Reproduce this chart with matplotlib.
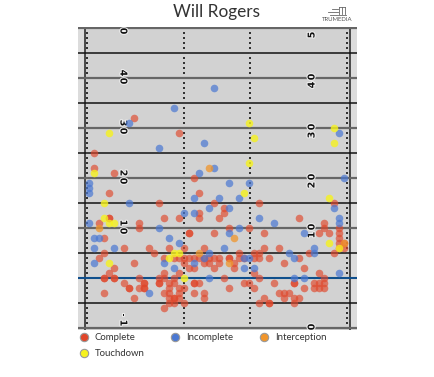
import matplotlib
matplotlib.use('Agg')
import matplotlib.pyplot as plt
import matplotlib.patheffects as pe
from matplotlib.lines import Line2D

complete_x = [10, 19, 2, 2, 6, 22, 5, 23, 15, 26, 23, 23, 16, 19, 27, 5, 5, 3, 11, 11, 4, 21, 21, 26,
              35, 28, 28, 43, 50, 48, 48, 29, 33, 36, 47, 49, 51, 51, 51,
              8, 13, 17, 20, 24, 4, 14, 3, 10,
              16, 18, 19, 20, 21, 22, 23, 24, 25, 26, 27,
              20, 24, 25, 21, 22, 26, 19, 16, 5, 6,
              15, 16, 4, 4, 6, 6, 11, 18,
              8, 12, 12, 15, 15, 17, 18, 22, 22, 23,
              12, 12, 9, 9, 11, 17, 19, 20,
              16, 17, 22, 24, 4, 19, 24, 10, 18, 18, 17, 19, 18, 17, 20, 16,
              36, 39, 31, 34, 35, 31, 32, 34, 35, 37, 29, 29, 27, 30, 30, 40, 43, 45, 50, 44,
              34, 35, 47, 48, 28, 32, 33, 34, 29, 38, 42, 42, 44,
              46, 47, 48, 46, 47, 48, 39, 40, 41, 40, 42, 43, 36, 35, 37, 37, 42, 51, 52, 52, 51]
complete_y = [32, 29, 25, 22, 21, 20, 17, 17, 15, 15, 13, 12, 12, 12, 12, 12, 12, 11, 11, 10, 8, 9, 9, 9,
              15, 14, 13, 12, 15, 11, 10, 10, 10, 9, 9, 9, 10, 9, 8,
              6, 6, 6, 6, 6, 5, 5, 4, 3,
              4, 4, 4, 4, 4, 4, 4, 4, 4, 4, 4,
              3, 3, 3, 2, 2, 2, 1, 1, 1, 2,
              0, 0, 0, 0, 0, 0, 0, 0,
              -1, -1, -1, -1, -1, -1, -1, -1, -1, -1,
              -2, -2, -2, -2, -2, -2, -2, -2,
              -3, -3, -3, -3, -3, -3, -4, -4, -4, -4, -4, -4, -5, -5, -5, -6,
              6, 6, 5, 5, 5, 4, 4, 4, 4, 4, 4, 4, 3, 3, 2, 3, 4, 5, 5, 2,
              1, 0, 1, 0, 0, -1, -1, -2, -2, -1, -1, -1, -2,
              -1, -1, -1, -2, -2, -2, -3, -3, -3, -4, -4, -4, -4, -5, -5, -5, -5, 7, 7, 6, 6]

incomplete_x = [26, 18, 9, 15, 24, 26, 23, 1, 1, 1, 22, 27, 9, 25, 20, 22, 1, 15, 17, 2, 3,
                29, 33, 52, 31, 29, 35, 38, 31, 44, 50, 51, 51, 29, 51,
                2, 6, 19, 2, 16, 18, 22, 25, 24, 13, 25,
                28, 41, 42, 46, 46, 32, 34, 32, 33, 42, 44, 51]
incomplete_y = [38, 34, 31, 26, 27, 22, 21, 19, 18, 17, 16, 16, 15, 14, 13, 13, 11, 10, 8, 8, 8,
                19, 19, 20, 16, 14, 12, 11, 10, 9, 14, 12, 11, 9, 29,
                6, 6, 7, 3, 3, 2, 3, 5, 4, -3, 0,
                6, 5, 4, 6, 5, 2, 2, 4, 4, 0, 0, 1]

interception_x = [25, 3, 23, 30, 29, 52]
interception_y = [22, 10, 5, 8, 3, 7]

touchdown_x = [33, 50, 5, 2, 4, 4, 5, 6, 34, 50, 33, 32, 49, 5, 18, 19, 17, 20, 49, 51]
touchdown_y = [31, 30, 29, 21, 15, 12, 11, 11, 28, 27, 23, 17, 16, 3, 5, 5, 4, 0, 7, 6]

num_labels = ['50', '40', '30', '20', '10', '-10']
num_yards = [50, 40, 30, 20, 10, -10]
legend_names = ['Complete', 'Touchdown', 'Incomplete', 'Interception']

c_red = '#e0462a'
c_blue = '#4a78d2'
c_orange = '#f0952b'
c_yellow = '#f6f21e'

fig = plt.figure(figsize=(4.35, 3.77), dpi=100)
ax = fig.add_axes([78 / 435, 1 - 330 / 377, 279 / 435, 303 / 377])
ax.set_xlim(-1.2, 54.6)
ax.set_ylim(-10.4, 50.2)
ax.axis('off')
ax.axvspan(-1.2, 54.6, color='#d2d2d2', lw=0, zorder=0)

# sidelines
ax.axvspan(-1.2, 0.2, color='#dcdcdc', lw=0, zorder=0)
ax.axvspan(53.2, 54.6, color='#dcdcdc', lw=0, zorder=0)
ax.axvline(0.2, color='#222222', lw=1.1, zorder=1)
ax.axvline(53.2, color='#222222', lw=1.1, zorder=1)

# yard lines
for yd in range(-10, 51, 5):
    if yd == 0:
        ax.axhline(yd, color='#0f4f8c', lw=1.5, zorder=1)
    elif yd % 10 == 0:
        ax.axhline(yd, color='#666666', lw=1.6, zorder=1)
    else:
        ax.axhline(yd, color='#111111', lw=1.1, zorder=1)

# hash marks
for hx in [0.7, 20, 33.2, 52.7]:
    hy = [yd for yd in range(-10, 50) if yd % 5 != 0]
    ax.scatter([hx] * len(hy), hy, marker='s', s=3.5, color='#333333', lw=0, zorder=1)

# field numbers, one digit at a time since they are spaced out
halo = [pe.withStroke(linewidth=1.5, foreground='#f0f0f0')]
for lab, yd in zip(num_labels, num_yards):
    chars = lab[::-1]
    for i, ch in enumerate(chars):
        left_y = yd - 0.6 + i * 1.6
        right_y = yd + 0.2 - i * 1.6
        if -10.4 < left_y < 50.2:
            ax.text(7.8, left_y, ch, rotation=-90, ha='center', va='center', fontsize=6.8,
                    fontweight='bold', color='#111111', path_effects=halo, clip_on=True, zorder=2)
        if -10.4 < right_y < 50.2:
            ax.text(45.6, right_y, ch, rotation=90, ha='center', va='center', fontsize=6.8,
                    fontweight='bold', color='#111111', path_effects=halo, clip_on=True, zorder=2)

ax.scatter(complete_x, complete_y, s=30, color=c_red, alpha=0.65, lw=0, zorder=3)
ax.scatter(incomplete_x, incomplete_y, s=30, color=c_blue, alpha=0.7, lw=0, zorder=3)
ax.scatter(interception_x, interception_y, s=30, color=c_orange, alpha=0.75, lw=0, zorder=3)
ax.scatter(touchdown_x, touchdown_y, s=30, color=c_yellow, alpha=0.8, lw=0, zorder=3)

fig.text(217 / 435, 1 - 12 / 377, 'Will Rogers', ha='center', va='center', fontsize=12.4,
         family='Lato', color='#333333')
fig.text(337.5 / 435, 1 - 19.5 / 377, 'TRUMEDIA', ha='center', va='center', fontsize=4.3,
         family='Lato', color='#555555')

# logo
for x0, x1, y0, y1 in [(328, 338, 12, 12), (332, 338, 9, 9), (330, 346, 14.5, 14.5),
                       (339, 339, 7, 14), (342, 342, 7, 14), (345, 345, 7, 14), (339, 345, 7, 7)]:
    fig.add_artist(Line2D([x0 / 435, x1 / 435], [1 - y0 / 377, 1 - y1 / 377], color='#666666', lw=0.6))

handles = []
for col, name in zip([c_red, c_yellow, c_blue, c_orange], legend_names):
    handles.append(Line2D([], [], ls='', marker='o', ms=6, mfc=col, mec='#999999', mew=0.8, label=name))
fig.legend(handles=handles, ncol=3, loc='upper left', bbox_to_anchor=(79 / 435, 1 - 333 / 377),
           frameon=False, prop={'family': 'Lato', 'size': 6.9}, labelcolor='#333333',
           handletextpad=0.65, columnspacing=2.7, labelspacing=0.78, borderpad=0, borderaxespad=0,
           handlelength=1.0)

fig.savefig('out.png', dpi=100, facecolor='white')
